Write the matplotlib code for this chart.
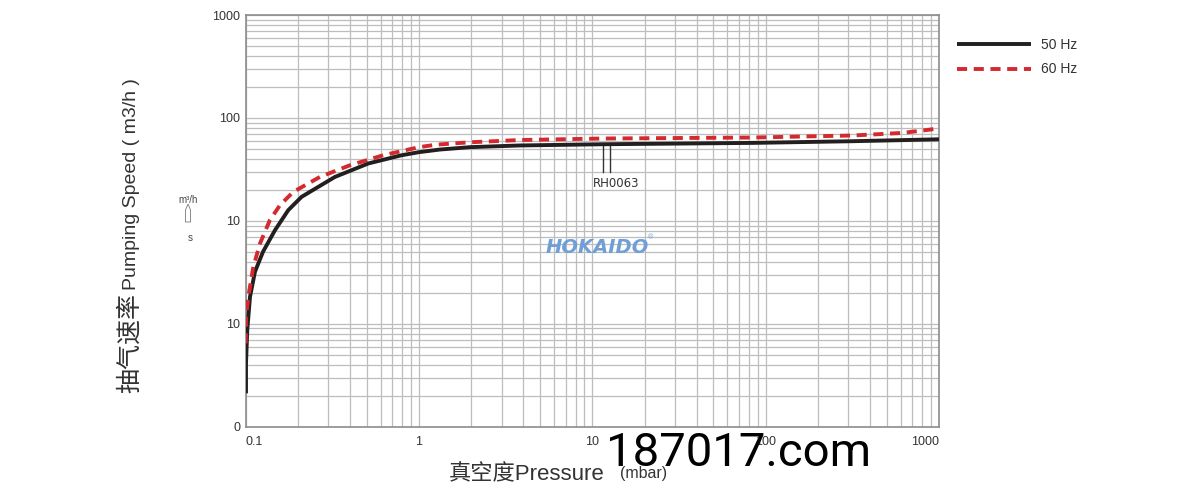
import numpy as np
import matplotlib
matplotlib.use("Agg")
import matplotlib.pyplot as plt
from matplotlib.ticker import NullFormatter
from matplotlib.patches import Polygon

plt.rcParams['font.family'] = ['Liberation Sans', 'Noto Sans CJK SC', 'DejaVu Sans']

# 數據 (mbar -> m3/h)
p50 = [0.1004, 0.1004, 0.1021, 0.1059, 0.1131, 0.1258, 0.1476, 0.176, 0.21,
       0.327, 0.51, 0.794, 1.0, 1.32, 1.97, 3.82, 11.5, 84.3, 318, 1000]
s50 = [0.211, 0.413, 0.869, 1.83, 3.2, 5.0, 8.12, 12.7, 17.1,
       26.7, 36.1, 43.4, 46.5, 49.3, 52.0, 54.0, 55.5, 57.2, 59.4, 62]

p60 = [0.1, 0.1004, 0.1035, 0.1106, 0.121, 0.138, 0.1577, 0.188, 0.268,
       0.3996, 0.622, 1.0, 1.26, 1.97, 3.82, 11.5, 84.3, 318, 618, 1000]
s60 = [0.645, 1.17, 1.83, 3.57, 6.04, 10.2, 14.2, 19.1, 26.7,
       34.7, 43.4, 52.0, 55.0, 58.0, 61.0, 63.1, 64.5, 67.5, 71.5, 79]

xticks = [0.1, 1, 10, 100, 1000]
xlabels = ["0.1", "1", "10", "100", "1000"]
yticks = [0.1, 1, 10, 100, 1000]
ylabels = ["0", "10", "10", "100", "1000"]

W, H = 1200, 497
fig = plt.figure(figsize=(W / 100, H / 100), dpi=100)
ax = fig.add_axes([245.7 / W, 1 - 426.7 / H, (939 - 245.7) / W, (426.7 - 15) / H])

black = '#231f1f'
red = '#d42a2f'
l50, = ax.plot(p50, s50, color=black, lw=2.8, solid_capstyle='butt',
               solid_joinstyle='round', label='50 Hz', zorder=3)
l60, = ax.plot(p60, s60, color=red, lw=2.8, dashes=(2.6, 1.7), label='60 Hz', zorder=4)

ax.set_xscale('log')
ax.set_yscale('log')
ax.set_xlim(0.1, 1000)
ax.set_ylim(0.1, 1000)
ax.set_xticks(xticks)
ax.set_xticklabels(xlabels)
ax.set_yticks(yticks)
ax.set_yticklabels(ylabels)
ax.xaxis.set_minor_formatter(NullFormatter())
ax.yaxis.set_minor_formatter(NullFormatter())
ax.tick_params(which='both', length=0, labelsize=9, colors='#333333')
ax.tick_params(axis='x', pad=7)
ax.tick_params(axis='y', pad=4)
xl = ax.get_xticklabels()
xl[0].set_ha('left')
xl[-1].set_ha('right')
ax.grid(which='both', color='#bdbdbd', lw=0.9)
for s in ax.spines.values():
    s.set_color('#8c8c8c')
    s.set_linewidth(1.2)

# RH0063 標註
rh_x = [11.5, 12.6]
for xx in rh_x:
    ax.plot([xx, xx], [56, 29.7], color='#333333', lw=1, zorder=2)
ax.text(13.8, 23.2, "RH0063", fontsize=8.5, family='DejaVu Sans', color='#333333',
        ha='center', va='center')

# 圖例
ax.legend(handles=[l50, l60], loc='upper left', bbox_to_anchor=(957 / W, 1 - 38 / H),
          bbox_transform=fig.transFigure, frameon=False, fontsize=10, borderpad=0,
          borderaxespad=0, handlelength=5.3, handletextpad=0.75, labelspacing=0.75,
          labelcolor='#333333')

# 軸標題
fig.text(130 / W, 1 - 393 / H, "抽气速率", rotation=90, ha='center', va='bottom',
         fontsize=18, color='#333333', family=['Noto Sans CJK SC'])
fig.text(131 / W, 1 - 290 / H, "Pumping Speed ( m3/h )", rotation=90, ha='center',
         va='bottom', fontsize=14, color='#333333')
fig.text(449 / W, 1 - 480 / H, "真空度Pressure", fontsize=16, color='#333333',
         ha='left', va='baseline')
fig.text(620 / W, 1 - 478 / H, "(mbar)", fontsize=11.5, color='#333333', ha='left', va='baseline')

# 單位小圖示
fig.text(188 / W, 1 - 200 / H, "m³/h", fontsize=7, color='#444444', ha='center', va='center')
fig.text(190 / W, 1 - 238 / H, "s", fontsize=7, color='#444444', ha='center', va='center')
icon = [(185.5, 222), (185.5, 210), (188, 204), (190.5, 210), (190.5, 222)]
fig.add_artist(Polygon([(a / W, 1 - b / H) for a, b in icon], closed=True, fill=False,
                       edgecolor='#777777', lw=0.6, transform=fig.transFigure))

# 標誌與浮水印
fig.text(597 / W, 1 - 247 / H, "HOKAIDO", fontsize=14, fontstyle='italic', fontweight='bold',
         family='DejaVu Sans', color='#6f9fd6', ha='center', va='center')
fig.text(650 / W, 1 - 238 / H, "®", fontsize=5, color='#6f9fd6', ha='center', va='center')
fig.text(606 / W, 1 - 466.5 / H, "187017.com", fontsize=34, family='Roboto', color='black',
         ha='left', va='baseline', zorder=10)

fig.savefig("out.png", dpi=100)
